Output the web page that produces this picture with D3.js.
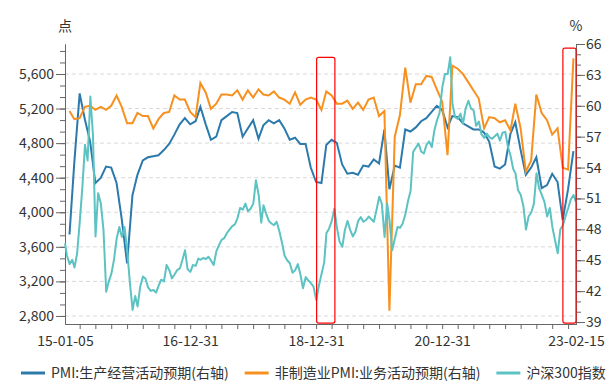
<!DOCTYPE html>
<html>
<head>
<meta charset="utf-8">
<script src="https://cdn.jsdelivr.net/npm/d3@7"></script>
<style>
  body { margin: 0; background: #fff; }
  text { font-family: "Noto Sans CJK SC", "Noto Sans", sans-serif; }
</style>
</head>
<body>
<svg id="chart"></svg>
<script>
// series names (legend order)
var seriesNames = ["PMI:生产经营活动预期(右轴)", "非制造业PMI:业务活动预期(右轴)", "沪深300指数"]
var seriesColors = ["#2b7aab", "#f7901e", "#5cc2c2"]

// monthly PMI values, Jan 2015 .. Jan 2023 (plotted at month end)
var pmiProduction = [
  47.5, 54.5, 61.2, 58.7, 56.5, 52.5, 53.0, 54.1, 54.0, 52.5, 49.0, 44.7,
  51.3, 53.3, 54.7, 55.0, 55.1, 55.2, 55.7, 56.3, 57.2, 58.2, 58.8, 58.2,
  58.5, 59.9, 58.2, 56.7, 57.0, 58.6, 59.0, 59.4, 59.3, 57.0, 57.8, 58.6,
  56.8, 58.1, 58.6, 58.3, 58.6, 57.8, 56.7, 56.9, 56.3, 56.3, 54.0, 52.6,
  52.5, 56.2, 56.7, 56.4, 54.3, 53.4, 53.5, 53.3, 54.2, 54.1, 54.8, 54.4,
  57.7, 51.9, 54.2, 54.0, 57.7, 57.5, 57.9, 58.5, 58.8, 59.4, 60.0, 59.6,
  57.9, 59.0, 58.9, 58.3, 58.0, 57.7, 57.7, 57.4, 56.5, 54.1, 53.9, 54.3,
  57.3, 58.4, 55.7, 53.3, 54.0, 55.0, 52.0, 52.3, 53.4, 52.6, 48.9, 51.9,
  55.6
]
var pmiNonManufacturing = [
  59.5, 58.7, 58.8, 59.9, 60.0, 59.6, 59.9, 59.6, 60.0, 61.0, 59.9, 58.3,
  58.3, 59.3, 59.0, 59.0, 57.8, 58.7, 59.3, 59.4, 61.0, 60.6, 60.6, 59.4,
  58.9, 62.2, 61.3, 59.7, 60.2, 61.1, 61.1, 61.0, 61.5, 60.6, 61.5, 60.8,
  61.6, 61.1, 61.0, 61.4, 60.8, 60.6, 60.2, 61.3, 60.1, 60.6, 60.8, 60.6,
  59.6, 61.4, 61.0, 60.2, 60.2, 60.5, 59.7, 60.3, 59.6, 60.6, 60.8, 59.0,
  59.5, 40.1, 57.0, 59.1, 63.7, 60.3, 62.1, 62.1, 62.9, 62.8, 61.6, 60.4,
  55.2, 63.9, 63.6, 63.1, 62.3, 61.5, 60.7, 57.8, 58.9, 58.8, 58.4, 58.6,
  57.6, 60.2, 57.8, 53.6, 54.7, 61.1, 59.3, 58.6, 57.2, 57.8, 54.0, 53.8,
  64.6
]

// CSI 300, two readings per month (1st and 16th), 2015-01 .. 2023-02
var csi300 = [
  3640, 3500, 3400, 3450, 3360, 3520, 3900, 4300, 4780, 4600, 5340, 4900, 3720, 4220, 4100, 3800, 3080, 3200, 3290, 3450, 3700, 3830, 3715, 3830,
  3550, 3190, 2870, 3030, 2910, 3140, 3255, 3230, 3130, 3090, 3100, 3070, 3150, 3220, 3200, 3390, 3330, 3235, 3280, 3330, 3350, 3450, 3560, 3340,
  3310, 3390, 3380, 3465, 3450, 3470, 3460, 3485, 3440, 3390, 3550, 3620, 3680, 3700, 3760, 3800, 3840, 3860, 3930, 4050, 4030, 4100, 4010, 4040,
  4100, 4370, 4200, 3880, 4080, 3985, 3900, 3870, 3850, 3890, 3780, 3650, 3500, 3445, 3410, 3300, 3330, 3400, 3280, 3120, 3250, 3210, 3180, 3140,
  2985, 3150, 3290, 3420, 3760, 3810, 3900, 4040, 3820, 3660, 3600, 3795, 3900, 3800, 3720, 3775, 3900, 3945, 3890, 3910, 3950, 3920, 3890, 4025,
  4180, 4100, 3715, 4100, 3900, 3560, 3700, 3830, 3820, 3870, 3980, 4130, 4250, 4700, 4750, 4795, 4700, 4680, 4780, 4820, 4755, 4950, 5065, 5150,
  5450, 5600, 5600, 5795, 5250, 5100, 5080, 5140, 5025, 5200, 5290, 5200, 5180, 5000, 5050, 4900, 4860, 4910, 4870, 4850, 4880, 4910, 4830, 4920,
  4930, 4760, 4650, 4500, 4450, 4255, 4200, 4070, 3800, 3950, 4000, 4100, 4450, 4280, 4200, 4120, 3950, 4050, 3830, 3680, 3525, 3800, 3850, 3950,
  4050, 4150, 4200, 4120
]

// axis ticks
var xLabelDates = ["2015-01-05", "2016-12-31", "2018-12-31", "2020-12-31", "2023-02-15"]
var leftTicks = [2800, 3200, 3600, 4000, 4400, 4800, 5200, 5600]
var rightTicks = [39, 42, 45, 48, 51, 54, 57, 60, 63, 66]

// red highlight boxes: [from, to, top value on right axis]
var highlights = [["2019-01-03", "2019-04-19", 64.7], ["2022-12-01", "2023-02-15", 65.6]]

var width = 615
var height = 384
var margin = {top: 44, bottom: 60, left: 65, right: 39}
var bodyWidth = width - margin.left - margin.right
var bodyHeight = height - margin.top - margin.bottom

var parse = d3.timeParse("%Y-%m-%d")
var start = parse(xLabelDates[0])
var end = parse(xLabelDates[xLabelDates.length - 1])

var monthEnds = pmiProduction.map((d, i) => new Date(2015, i + 1, 0))
var csiDates = csi300.map((d, i) => {
  let dt = new Date(2015, Math.floor(i / 2), i % 2 ? 16 : 1)
  if (dt < start) dt = start
  if (dt > end) dt = end
  return dt
})

var svg = d3.select("#chart").attr("width", width).attr("height", height)

var x = d3.scaleTime().domain([start, end]).range([margin.left, margin.left + bodyWidth])
var yL = d3.scaleLinear().domain([2707, 5947]).range([margin.top + bodyHeight, margin.top])
var yR = d3.scaleLinear().domain([38.81, 66]).range([margin.top + bodyHeight, margin.top])

// grid lines
svg.append("g").selectAll("line").data(leftTicks).enter().append("line")
  .attr("x1", margin.left).attr("x2", margin.left + bodyWidth)
  .attr("y1", d => yL(d)).attr("y2", d => yL(d))
  .attr("stroke", "#d9d9d9").attr("stroke-dasharray", "4,3")

function styleAxis(g) {
  g.select(".domain").attr("stroke", "#666")
  g.selectAll(".tick line").attr("stroke", "#666")
  g.selectAll("text").attr("fill", "#333").style("font-size", "14px")
    .style("font-family", '"Noto Sans CJK SC", "Noto Sans", sans-serif')
}

// left axis
var leftMinor = d3.range(2800, 5947, 400 / 3)
svg.append("g").attr("transform", `translate(${margin.left},0)`)
  .call(d3.axisLeft(yL).tickValues(leftMinor).tickSize(5).tickSizeOuter(0).tickFormat(""))
  .call(styleAxis)
svg.append("g").attr("transform", `translate(${margin.left},0)`)
  .call(d3.axisLeft(yL).tickValues(leftTicks).tickSize(9).tickPadding(2).tickSizeOuter(0).tickFormat(d3.format(",")))
  .call(styleAxis)

// right axis
var rightMinor = d3.range(39, 67, 1)
svg.append("g").attr("transform", `translate(${margin.left + bodyWidth},0)`)
  .call(d3.axisRight(yR).tickValues(rightMinor).tickSize(5).tickSizeOuter(0).tickFormat(""))
  .call(styleAxis)
svg.append("g").attr("transform", `translate(${margin.left + bodyWidth},0)`)
  .call(d3.axisRight(yR).tickValues(rightTicks).tickSize(9).tickPadding(1).tickSizeOuter(0))
  .call(styleAxis)

// x axis: quarter-end ticks, labels at fixed dates
var quarterTicks = d3.timeMonth.range(new Date(2015, 2, 1), end, 3).map(d => new Date(d.getFullYear(), d.getMonth() + 1, 0))
svg.append("g").attr("transform", `translate(0,${margin.top + bodyHeight})`)
  .call(d3.axisBottom(x).tickValues(quarterTicks).tickSize(5).tickSizeOuter(0).tickFormat(""))
  .call(styleAxis)
svg.append("g").attr("transform", `translate(0,${margin.top + bodyHeight})`)
  .call(d3.axisBottom(x).tickValues(xLabelDates.map(parse)).tickSize(0).tickPadding(12).tickSizeOuter(0).tickFormat(d3.timeFormat("%y-%m-%d")))
  .call(styleAxis)

// unit labels
svg.append("text").attr("x", margin.left).attr("y", 31).attr("text-anchor", "middle")
  .attr("fill", "#333").style("font-size", "14px").text("点")
svg.append("text").attr("x", margin.left + bodyWidth).attr("y", 31).attr("text-anchor", "middle")
  .attr("fill", "#333").style("font-size", "14px").text("%")

// lines
var lineR = d3.line().x(d => x(d[0])).y(d => yR(d[1]))
var lineL = d3.line().x(d => x(d[0])).y(d => yL(d[1]))

svg.append("path").datum(monthEnds.map((d, i) => [d, pmiProduction[i]]))
  .attr("d", lineR).attr("fill", "none").attr("stroke", seriesColors[0]).attr("stroke-width", 2)
svg.append("path").datum(monthEnds.map((d, i) => [d, pmiNonManufacturing[i]]))
  .attr("d", lineR).attr("fill", "none").attr("stroke", seriesColors[1]).attr("stroke-width", 2)
svg.append("path").datum(csiDates.map((d, i) => [d, csi300[i]]))
  .attr("d", lineL).attr("fill", "none").attr("stroke", seriesColors[2]).attr("stroke-width", 2)
  .attr("stroke-linejoin", "round")

// highlight boxes
svg.append("g").selectAll("rect").data(highlights).enter().append("rect")
  .attr("x", d => x(parse(d[0])))
  .attr("y", d => yR(d[2]))
  .attr("width", d => x(parse(d[1])) - x(parse(d[0])))
  .attr("height", d => yR(38.9) - yR(d[2]))
  .attr("rx", 2)
  .attr("fill", "none").attr("stroke", "#f00").attr("stroke-width", 1.2)

// legend
var legend = svg.append("g").attr("transform", "translate(21,373)")
var lx = 0
seriesNames.forEach((name, i) => {
  legend.append("line").attr("x1", lx).attr("x2", lx + 24).attr("y1", 0).attr("y2", 0)
    .attr("stroke", seriesColors[i]).attr("stroke-width", 3)
  let t = legend.append("text").attr("x", lx + 30).attr("y", 5)
    .attr("fill", "#333").style("font-size", "14px").text(name)
  lx += 30 + t.node().getComputedTextLength() + 16
})
</script>
</body>
</html>
